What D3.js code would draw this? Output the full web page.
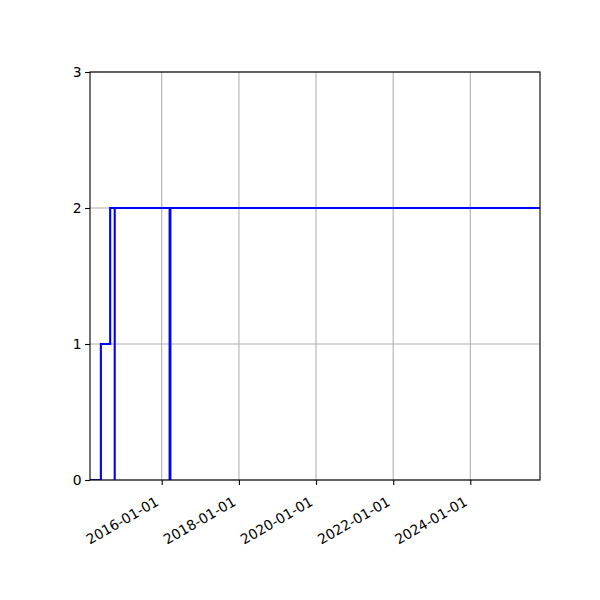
<!DOCTYPE html>
<html>
<head>
<meta charset="utf-8">
<script src="https://cdn.jsdelivr.net/npm/d3@7"></script>
<style>
  body { margin: 0; background: #fff; }
  svg { font-family: "DejaVu Sans", sans-serif; }
</style>
</head>
<body>
<svg id="chart" width="600" height="600"></svg>
<script>
// step series
let dates = ["2014-02-21", "2014-06-04", "2014-08-31", "2014-10-13", "2014-10-13",
             "2016-03-16", "2016-03-16", "2016-03-23", "2016-03-23", "2025-10-22"];
let values = [0, 1, 2, 0, 2, 0, 2, 0, 2, 2];
let xTickDates = ["2016-01-01", "2018-01-01", "2020-01-01", "2022-01-01", "2024-01-01"];
let yTicks = [0, 1, 2, 3];

var parse = d3.utcParse("%Y-%m-%d");
var data = dates.map(function (d, i) { return { date: parse(d), value: values[i] }; });
var xTicks = xTickDates.map(parse);

var svg = d3.select("#chart"),
    mLeft = 90, mRight = 540, mTop = 72, mBottom = 480;

var xScale = d3.scaleUtc().domain(d3.extent(data, function (d) { return d.date; })).range([mLeft, mRight]),
    yScale = d3.scaleLinear().domain([0, 3]).range([mBottom, mTop]);

svg.append("defs").append("clipPath").attr("id", "clip")
    .append("rect").attr("x", mLeft).attr("y", mTop).attr("width", mRight - mLeft).attr("height", mBottom - mTop);

// grid
var grid = svg.append("g").attr("stroke", "#b0b0b0").attr("stroke-width", 1.1);
grid.selectAll(".gx").data(xTicks).enter().append("line")
    .attr("x1", function (d) { return xScale(d); }).attr("x2", function (d) { return xScale(d); })
    .attr("y1", mTop).attr("y2", mBottom);
grid.selectAll(".gy").data(yTicks).enter().append("line")
    .attr("x1", mLeft).attr("x2", mRight)
    .attr("y1", function (d) { return yScale(d); }).attr("y2", function (d) { return yScale(d); });

// line
var line = d3.line().curve(d3.curveStepAfter)
    .x(function (d) { return xScale(d.date); })
    .y(function (d) { return yScale(d.value); });
svg.append("path").datum(data).attr("clip-path", "url(#clip)")
    .attr("fill", "none").attr("stroke", "#0000ff").attr("stroke-width", 2.1)
    .attr("d", line);

// axes
var xAxis = d3.axisBottom(xScale).tickValues(xTicks).tickFormat(d3.utcFormat("%Y-%m-%d")).tickSizeOuter(0).tickSize(4.9).tickPadding(3.5);
var gx = svg.append("g").attr("transform", "translate(0," + mBottom + ")").call(xAxis);
gx.selectAll("text").attr("font-size", 13.9).attr("fill", "#000")
    .attr("text-anchor", "end").attr("dy", null)
    .attr("x", 0).attr("y", 0)
    .attr("transform", "translate(-2.5, 24.5) rotate(-30)");

var yAxis = d3.axisLeft(yScale).tickValues(yTicks).tickFormat(d3.format("d")).tickSizeOuter(0).tickSize(4.9).tickPadding(3.5);
var gy = svg.append("g").attr("transform", "translate(" + mLeft + ",0)").call(yAxis);
gy.selectAll("text").attr("font-size", 13.9).attr("fill", "#000");

[gx, gy].forEach(function (g) {
    g.select(".domain").remove();
    g.selectAll(".tick line").attr("stroke", "#000").attr("stroke-width", 1.1);
    g.attr("font-family", "DejaVu Sans, sans-serif");
});

// spines
svg.append("rect").attr("x", mLeft).attr("y", mTop).attr("width", mRight - mLeft).attr("height", mBottom - mTop)
    .attr("fill", "none").attr("stroke", "#000").attr("stroke-width", 1.1);
</script>
</body>
</html>
